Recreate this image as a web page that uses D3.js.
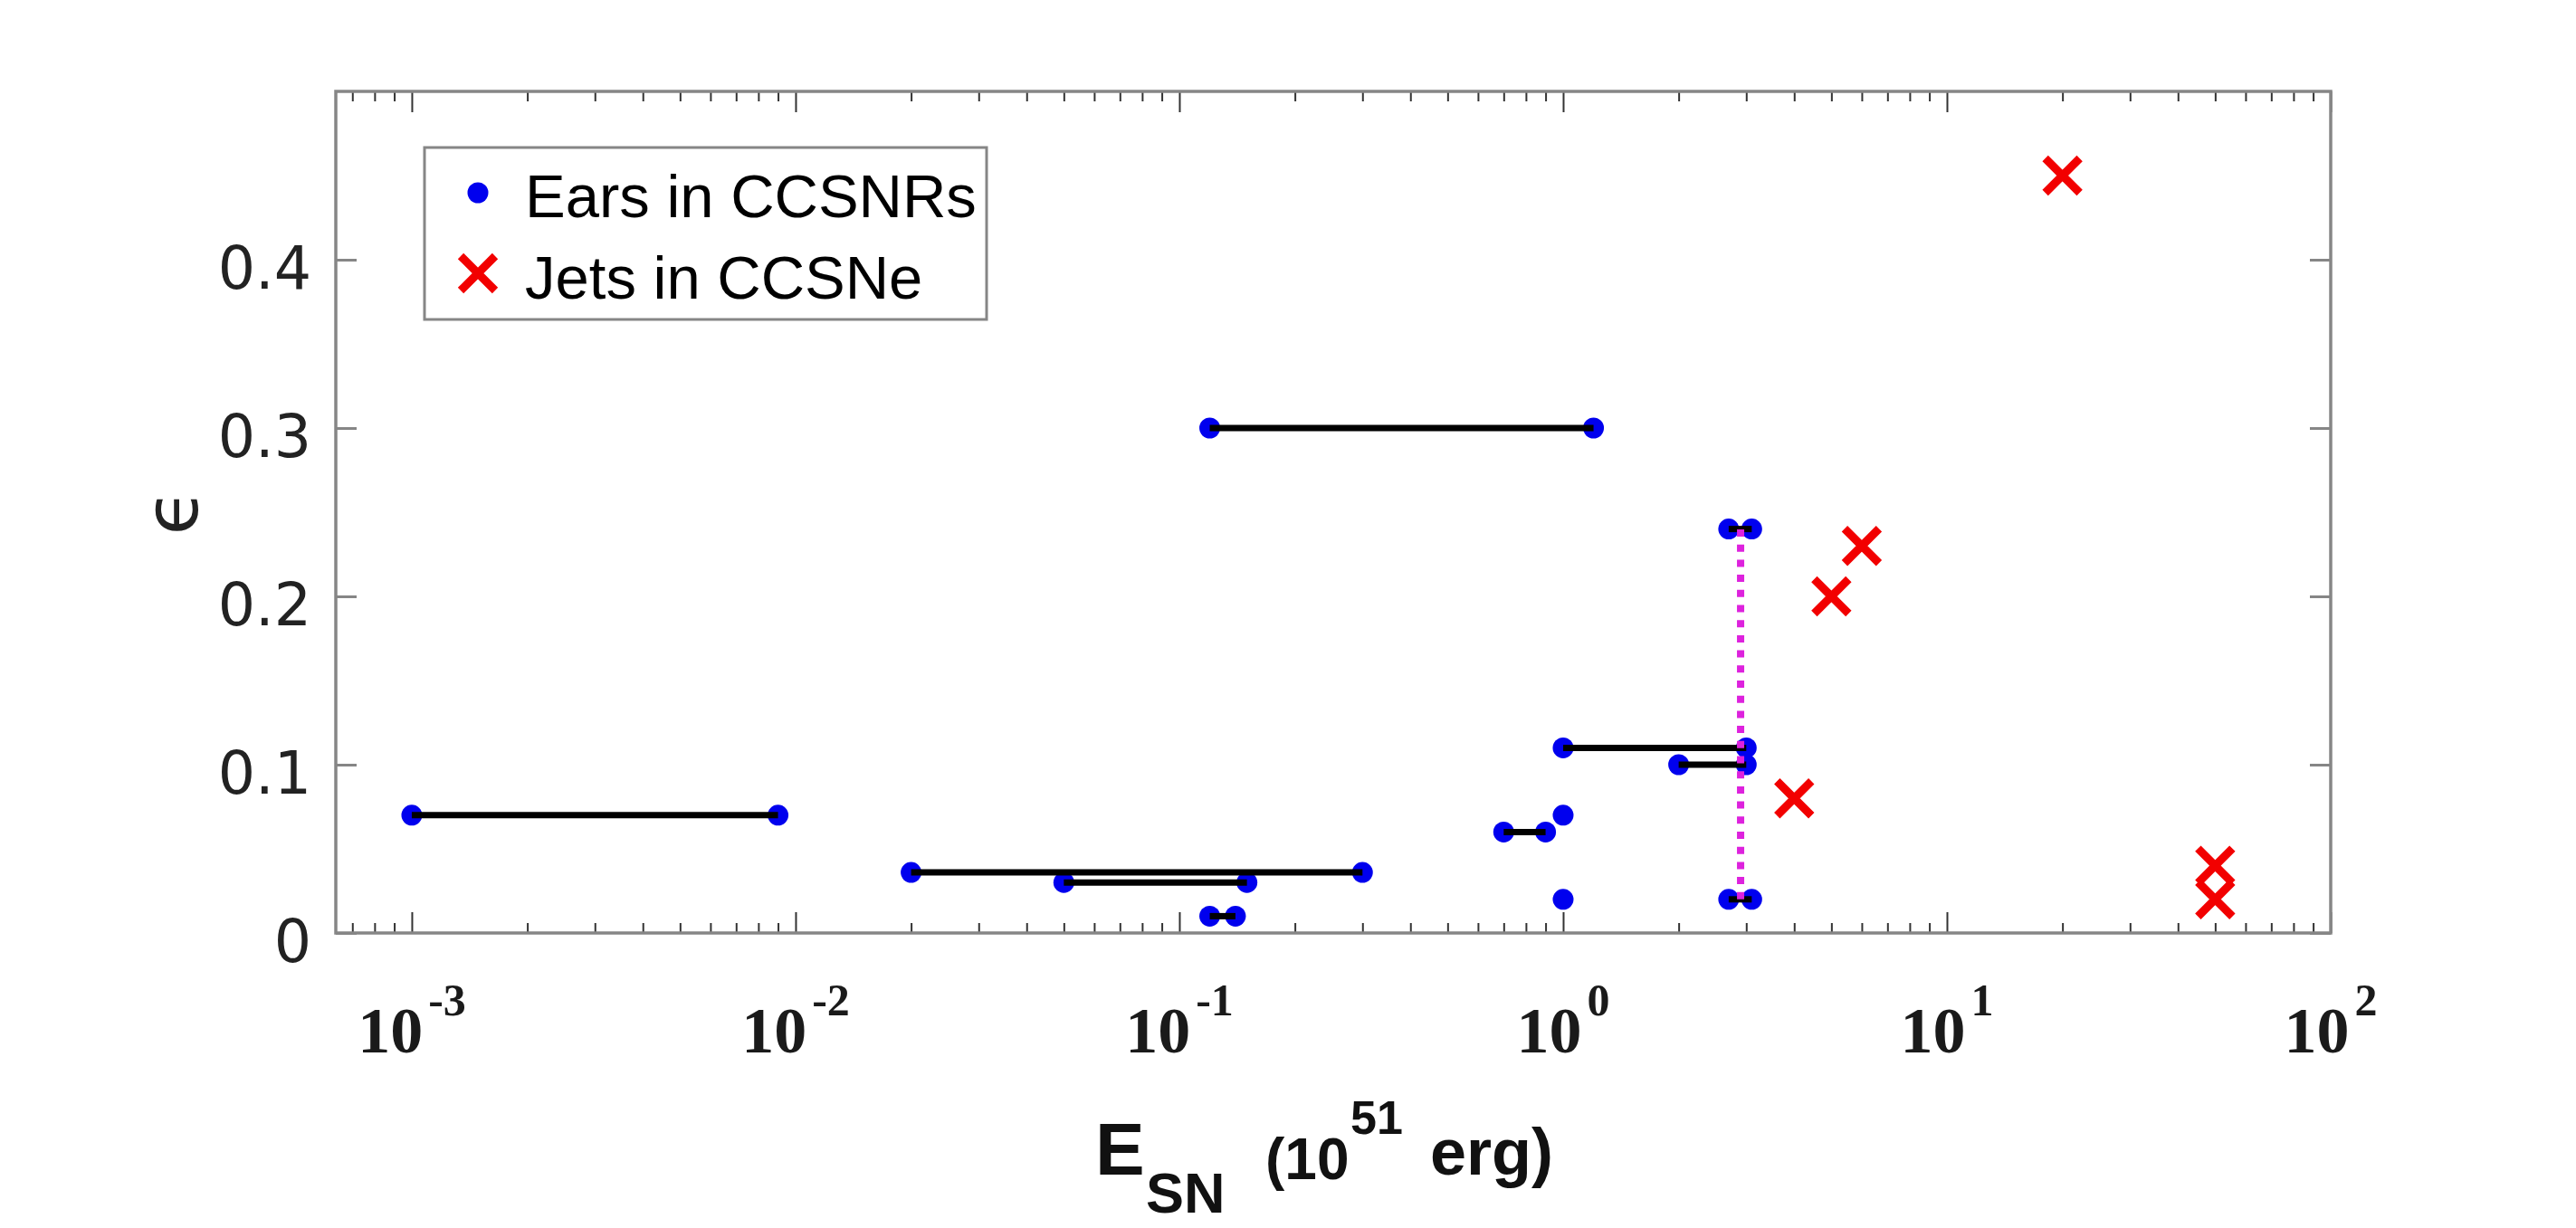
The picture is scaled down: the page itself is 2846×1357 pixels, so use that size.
<!DOCTYPE html>
<html>
<head>
<meta charset="utf-8">
<script src="https://cdn.jsdelivr.net/npm/d3@7"></script>
<style>
  html, body { margin: 0; padding: 0; background: #fff; }
  svg { display: block; }
</style>
</head>
<body>
<div id="chart"></div>
<script>
// ears in CCSNRs: ranges of E_SN (low, high) at each epsilon
const earLow = [0.001, 0.02, 0.05, 0.12, 0.12, 0.7, 1.0, 2.0, 2.7, 2.7];
const earHigh = [0.009, 0.3, 0.15, 0.14, 1.2, 0.9, 3.0, 3.0, 3.1, 3.1];
const earEps = [0.07, 0.036, 0.03, 0.01, 0.3, 0.06, 0.11, 0.1, 0.24, 0.02];
// single ears with no range
const earSingleE = [1.0, 1.0];
const earSingleEps = [0.07, 0.02];
// dotted link between the two 2.7-3.1 ranges
const linkE = [2.9, 2.9];
const linkEps = [0.02, 0.24];
// jets in CCSNe
const jetE = [20, 6, 5, 4, 50, 50];
const jetEps = [0.45, 0.23, 0.2, 0.08, 0.04, 0.02];

const xMajor = [1e-3, 1e-2, 1e-1, 1e0, 1e1, 1e2];
const xExp = ['-3', '-2', '-1', '0', '1', '2'];
const yTicks = [0, 0.1, 0.2, 0.3, 0.4];
const legendLabels = ['Ears in CCSNRs', 'Jets in CCSNe'];

const W = 2846, H = 1357;
const mLeft = 371, mRight = 2575, mTop = 101, mBottom = 1031;
const axisColor = '#868686';
const blue = '#0000ee', red = '#f20000', magenta = '#dd22dd';

const svg = d3.select('#chart').append('svg')
  .attr('width', W).attr('height', H)
  .style('background', '#fff');

const x = d3.scaleLog().domain([Math.pow(10, -3.198), 100]).range([mLeft, mRight]);
const y = d3.scaleLinear().domain([0, 0.5]).range([mBottom, mTop]);

// minor ticks on log axis
const xMinor = [];
for (let d = -4; d <= 1; d++) {
  for (let k = 2; k <= 9; k++) {
    const v = k * Math.pow(10, d);
    if (v > x.domain()[0] && v < x.domain()[1]) xMinor.push(v);
  }
}

// ticks
function tickAxis(axis, tx, ty, size, color, width) {
  const g = svg.append('g')
    .attr('transform', `translate(${tx},${ty})`)
    .call(axis.tickSize(size).tickFormat(''));
  g.select('.domain').remove();
  g.selectAll('.tick line').attr('stroke', color).attr('stroke-width', width);
  return g;
}
tickAxis(d3.axisBottom(x).tickValues(xMajor), 0, mBottom, -23, '#333', 2);
tickAxis(d3.axisBottom(x).tickValues(xMinor), 0, mBottom, -11, '#333', 2);
tickAxis(d3.axisTop(x).tickValues(xMajor), 0, mTop, -23, '#333', 2);
tickAxis(d3.axisTop(x).tickValues(xMinor), 0, mTop, -11, '#333', 2);
tickAxis(d3.axisLeft(y).tickValues(yTicks), mLeft, 0, -23, axisColor, 3);
tickAxis(d3.axisRight(y).tickValues(yTicks), mRight, 0, -23, axisColor, 3);

// frame
svg.append('rect')
  .attr('x', mLeft).attr('y', mTop)
  .attr('width', mRight - mLeft).attr('height', mBottom - mTop)
  .attr('fill', 'none').attr('stroke', axisColor).attr('stroke-width', 3.5);

// y tick labels
svg.append('g').selectAll('text')
  .data(yTicks)
  .enter().append('text')
  .attr('x', mLeft - 27)
  .attr('y', d => y(d) + 9)
  .attr('text-anchor', 'end')
  .attr('dominant-baseline', 'central')
  .style('font-family', '"DejaVu Sans", sans-serif')
  .style('font-size', '65px')
  .style('fill', '#222')
  .text(d => d === 0 ? '0' : d3.format('.1f')(d));

// x tick labels 10^n
const xl = svg.append('g').selectAll('text')
  .data(xMajor)
  .enter().append('text')
  .attr('x', d => x(d))
  .attr('y', 1163)
  .attr('text-anchor', 'middle')
  .style('font-family', '"Liberation Serif", "Times New Roman", serif')
  .style('font-weight', 'bold')
  .style('fill', '#1a1a1a');
xl.append('tspan').style('font-size', '72px').text('10');
xl.append('tspan').attr('dx', 6).attr('dy', -41).style('font-size', '50px').text((d, i) => xExp[i]);

// axis titles
const xt = svg.append('text')
  .attr('y', 1298)
  .style('font-family', '"Liberation Sans", Arial, sans-serif')
  .style('font-weight', 'bold')
  .style('fill', '#111');
xt.append('tspan').attr('x', 1210).style('font-size', '82px').text('E');
xt.append('tspan').attr('x', 1266).attr('y', 1340).style('font-size', '63px').text('SN');
xt.append('tspan').attr('x', 1398).attr('y', 1303).style('font-size', '64px').text('(10');
xt.append('tspan').attr('x', 1492).attr('y', 1253).style('font-size', '52px').text('51');
xt.append('tspan').attr('x', 1580).attr('y', 1298).style('font-size', '72px').text('erg)');

svg.append('text')
  .attr('transform', `translate(189,${(mTop + mBottom) / 2}) rotate(-90)`)
  .attr('text-anchor', 'middle')
  .attr('dominant-baseline', 'central')
  .style('font-family', '"DejaVu Sans", sans-serif')
  .style('font-size', '82px')
  .style('fill', '#222')
  .text('\u03f5');

// marks
const plot = svg.append('g');

const pairs = earLow.map((lo, i) => ({ lo, hi: earHigh[i], eps: earEps[i] }));
const dots = pairs.flatMap(p => [{ e: p.lo, eps: p.eps }, { e: p.hi, eps: p.eps }])
  .concat(earSingleE.map((e, i) => ({ e, eps: earSingleEps[i] })));

plot.selectAll('circle.ear')
  .data(dots)
  .enter().append('circle')
  .attr('class', 'ear')
  .attr('cx', d => x(d.e))
  .attr('cy', d => y(d.eps))
  .attr('r', 11.5)
  .attr('fill', blue);

plot.selectAll('line.range')
  .data(pairs)
  .enter().append('line')
  .attr('class', 'range')
  .attr('x1', d => x(d.lo)).attr('x2', d => x(d.hi))
  .attr('y1', d => y(d.eps)).attr('y2', d => y(d.eps))
  .attr('stroke', '#000').attr('stroke-width', 7);

plot.append('line')
  .attr('x1', x(linkE[0])).attr('x2', x(linkE[1]))
  .attr('y1', y(linkEps[0])).attr('y2', y(linkEps[1]))
  .attr('stroke', magenta).attr('stroke-width', 8)
  .attr('stroke-dasharray', '8,8.7');

const cross = s => `M${-s},${-s}L${s},${s}M${-s},${s}L${s},${-s}`;

plot.selectAll('path.jet')
  .data(jetE.map((e, i) => ({ e, eps: jetEps[i] })))
  .enter().append('path')
  .attr('class', 'jet')
  .attr('transform', d => `translate(${x(d.e)},${y(d.eps)})`)
  .attr('d', cross(19))
  .attr('fill', 'none')
  .attr('stroke', red).attr('stroke-width', 9);

// legend
const lg = svg.append('g');
lg.append('rect')
  .attr('x', 469).attr('y', 163).attr('width', 621).attr('height', 190)
  .attr('fill', '#fff').attr('stroke', axisColor).attr('stroke-width', 3);
lg.append('circle').attr('cx', 528).attr('cy', 213).attr('r', 11.5).attr('fill', blue);
lg.append('path')
  .attr('transform', 'translate(528,302)')
  .attr('d', cross(19))
  .attr('fill', 'none').attr('stroke', red).attr('stroke-width', 9);
lg.selectAll('text')
  .data(legendLabels)
  .enter().append('text')
  .attr('x', 580)
  .attr('y', (d, i) => 240 + i * 90)
  .style('font-family', '"Liberation Sans", Arial, sans-serif')
  .style('font-size', '67px')
  .style('fill', '#000')
  .text(d => d);
</script>
</body>
</html>
